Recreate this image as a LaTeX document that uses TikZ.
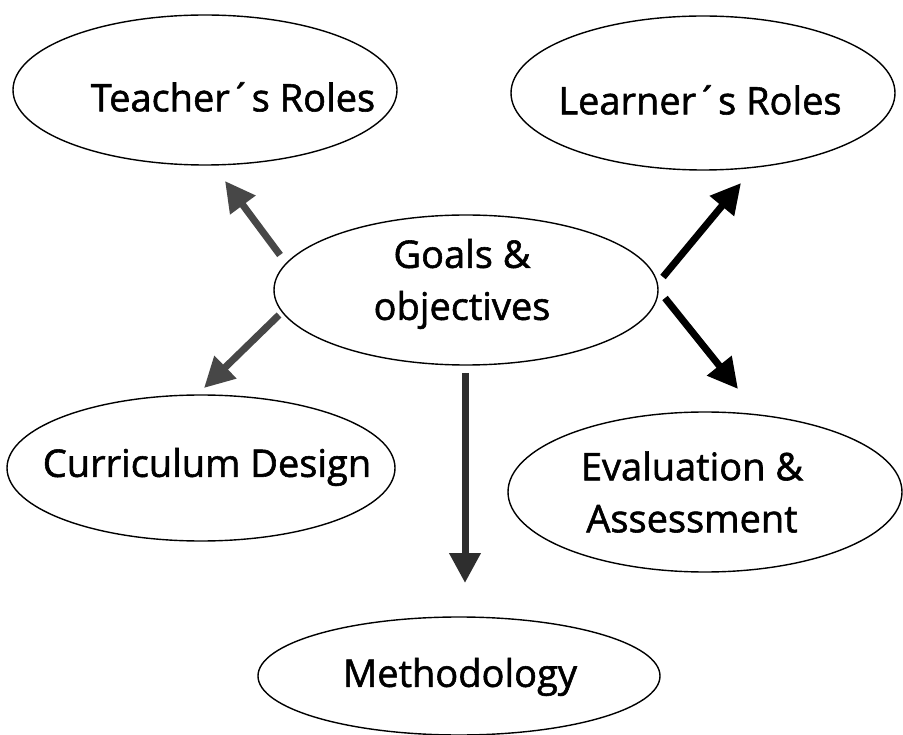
\documentclass[tikz,border=0pt]{standalone}
\usepackage{fontspec}
\setmainfont{Open Sans}
\newfontfamily\labelfont{Open Sans}[FakeBold=1.5]
\usetikzlibrary{shapes.geometric,arrows.meta}
\begin{document}
\begin{tikzpicture}[x=1pt,y=-1pt,
  bubble/.style={draw=black,line width=1.4pt,ellipse,inner sep=0pt},
  word/.style={font=\fontsize{38}{52}\labelfont,align=center,inner sep=0pt},
  link/.style={line width=7pt,-{Triangle[length=30pt,width=30pt]}},
]
\useasboundingbox (0,0) rectangle (903,735);
\fill[white] (0,0) rectangle (903,735);

% ellipses
\node[bubble,minimum width=384pt,minimum height=150pt] (teacher) at (205,90) {};
\node[bubble,minimum width=384pt,minimum height=154pt] (learner) at (703,93) {};
\node[bubble,minimum width=384pt,minimum height=150pt] (goals) at (466,290) {};
\node[bubble,minimum width=388pt,minimum height=146pt] (curric) at (201,468) {};
\node[bubble,minimum width=394pt,minimum height=160pt] (evalu) at (705,492) {};
\node[bubble,minimum width=402pt,minimum height=118pt] (method) at (459,676) {};

% labels
\node[word] (teacherT) at (233,97) {Teacher´s Roles};
\node[word] (learnerT) at (700,100) {Learner´s Roles};
\node[word] (goalsT) at (462,284) {Goals \&\\objectives};
\node[word] (curricT) at (207,467) {Curriculum Design};
\node[word] (evaluT) at (692,492) {Evaluation \&\\Assessment};
\node[word] (methodT) at (460,677) {Methodology};

% arrow end points
\coordinate (tTail) at (280,255);
\coordinate (tTip) at (225,181);
\coordinate (cTail) at (279,315);
\coordinate (cTip) at (204,388);
\coordinate (lTail) at (663,277);
\coordinate (lTip) at (741,183);
\coordinate (eTail) at (665,298);
\coordinate (eTip) at (738,389);
\coordinate (mTail) at (465,373);
\coordinate (mTip) at (465,583);

% arrows
\draw[link,draw=black!72,fill=black!72] (tTail) -- (tTip);
\draw[link,draw=black!72,fill=black!72] (cTail) -- (cTip);
\draw[link,draw=black,fill=black] (lTail) -- (lTip);
\draw[link,draw=black,fill=black] (eTail) -- (eTip);
\draw[link,draw=black!82,fill=black!82] (mTail) -- (mTip);
\end{tikzpicture}
\end{document}
